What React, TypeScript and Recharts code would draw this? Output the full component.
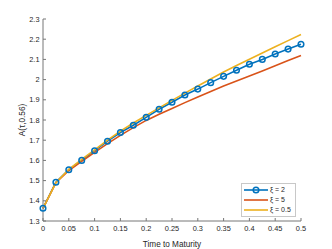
import React from 'react';
import { LineChart, Line, XAxis, YAxis } from 'recharts';

// time to maturity grid
const times = [0, 0.025, 0.05, 0.075, 0.1, 0.125, 0.15, 0.175, 0.2, 0.225, 0.25, 0.275, 0.3, 0.325, 0.35, 0.375, 0.4, 0.425, 0.45, 0.475, 0.5];

const xi2 = [1.363, 1.492, 1.554, 1.6, 1.648, 1.695, 1.738, 1.774, 1.813, 1.853, 1.888, 1.924, 1.953, 1.985, 2.016, 2.046, 2.076, 2.1, 2.127, 2.151, 2.175];
const xi5 = [1.363, 1.49, 1.55, 1.595, 1.64, 1.683, 1.724, 1.762, 1.798, 1.828, 1.857, 1.886, 1.914, 1.941, 1.968, 1.993, 2.018, 2.043, 2.068, 2.094, 2.119];
const xi05 = [1.363, 1.49, 1.556, 1.605, 1.652, 1.7, 1.745, 1.785, 1.823, 1.86, 1.897, 1.933, 1.968, 2.003, 2.038, 2.07, 2.101, 2.132, 2.163, 2.193, 2.223];

const xTicks = [0, 0.05, 0.1, 0.15, 0.2, 0.25, 0.3, 0.35, 0.4, 0.45, 0.5];
const yTicks = [1.3, 1.4, 1.5, 1.6, 1.7, 1.8, 1.9, 2, 2.1, 2.2, 2.3];

const series = [
  { key: 'xi2', name: 'ξ = 2', color: '#0072BD', marker: true },
  { key: 'xi5', name: 'ξ = 5', color: '#D95319', marker: false },
  { key: 'xi05', name: 'ξ = 0.5', color: '#EDB120', marker: false },
];

const data = times.map((t, i) => ({ t, xi2: xi2[i], xi5: xi5[i], xi05: xi05[i] }));

const font = '"Liberation Sans", Arial, sans-serif';
const fmt = (v: number) => String(+v.toFixed(2));

// legend drawn over the plot, bottom-right like matlab's 'southeast'
const LegendBox = () => (
  <div
    style={{
      position: 'absolute',
      left: 241,
      top: 183,
      width: 51,
      border: '1px solid #c8c8c8',
      background: '#fff',
      padding: '1px 0 1px 2px',
      fontFamily: font,
      fontSize: 7,
      color: '#262626',
    }}
  >
    {series.map((s) => (
      <div key={s.key} style={{ display: 'flex', alignItems: 'center', height: 10, lineHeight: '10px' }}>
        <svg width={24} height={10} style={{ marginRight: 2, flex: 'none' }}>
          <line x1={0} y1={5} x2={24} y2={5} stroke={s.color} strokeWidth={1.6} />
          {s.marker && <circle cx={12} cy={5} r={2.8} fill="none" stroke={s.color} strokeWidth={1.5} />}
        </svg>
        <span style={{ whiteSpace: 'nowrap' }}>{s.name}</span>
      </div>
    ))}
  </div>
);

export default function App() {
  return (
    <div style={{ position: 'absolute', left: 0, top: 0, width: 332, height: 249, background: '#fff' }}>
      <LineChart width={332} height={249} data={data} margin={{ top: 19, right: 31, bottom: 0, left: 0 }}>
        <XAxis
          dataKey="t"
          type="number"
          domain={[0, 0.5]}
          ticks={xTicks}
          tickFormatter={fmt}
          height={28}
          stroke="#777"
          tickSize={-3}
          tickMargin={8}
          tick={{ fill: '#262626', fontSize: 7.4, fontFamily: font }}
          label={{ value: 'Time to Maturity', position: 'insideBottom', offset: 2, fill: '#262626', fontSize: 8.2, fontFamily: font }}
        />
        <YAxis
          type="number"
          domain={[1.3, 2.3]}
          ticks={yTicks}
          tickFormatter={fmt}
          width={43}
          stroke="#777"
          tickSize={-3}
          tickMargin={6.5}
          tick={{ fill: '#262626', fontSize: 7.4, fontFamily: font }}
          label={{ value: 'A(τ,0.56)', angle: -90, position: 'insideLeft', offset: 22, fill: '#262626', fontSize: 8.2, fontFamily: font, style: { textAnchor: 'middle' } }}
        />
        {series.map((s) => (
          <Line
            key={s.key}
            dataKey={s.key}
            name={s.name}
            type="linear"
            stroke={s.color}
            strokeWidth={1.6}
            dot={s.marker ? { r: 2.8, fill: 'none', stroke: s.color, strokeWidth: 1.5 } : false}
            activeDot={false}
            isAnimationActive={false}
          />
        ))}
      </LineChart>
      <LegendBox />
    </div>
  );
}
